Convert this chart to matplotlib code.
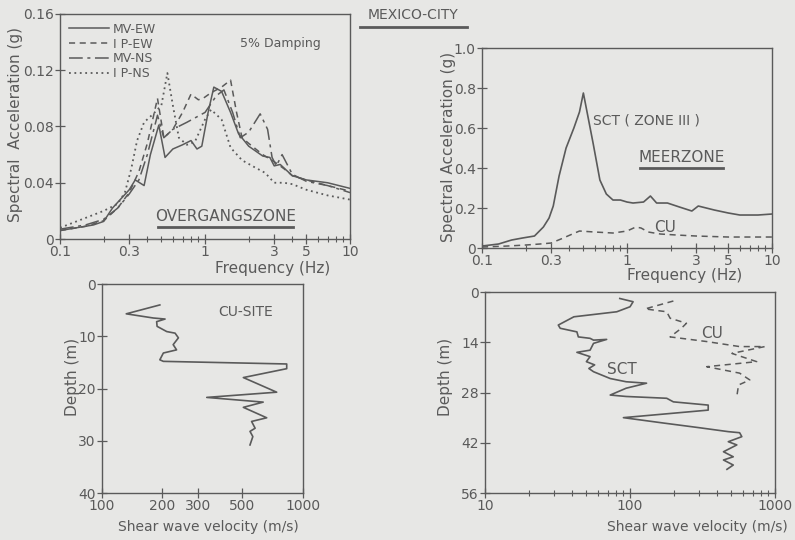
import matplotlib
matplotlib.use('Agg')
import matplotlib.pyplot as plt
from matplotlib.lines import Line2D

# --- transition zone spectra (top left) ---
f_mv_ew = [0.1, 0.13, 0.17, 0.2, 0.23, 0.26, 0.3, 0.33, 0.38, 0.42, 0.48, 0.53, 0.6, 0.7, 0.8, 0.88, 0.95, 1.05, 1.15, 1.3, 1.5, 1.7, 2.0, 2.5, 2.8, 3.0, 3.3, 4.0, 5.0, 7.0, 10.0]
a_mv_ew = [0.006, 0.008, 0.010, 0.0125, 0.022, 0.028, 0.035, 0.042, 0.038, 0.060, 0.081, 0.058, 0.064, 0.067, 0.070, 0.064, 0.066, 0.090, 0.108, 0.105, 0.090, 0.075, 0.066, 0.059, 0.058, 0.052, 0.053, 0.045, 0.042, 0.040, 0.036]

f_ip_ew = [0.1, 0.15, 0.2, 0.25, 0.3, 0.35, 0.4, 0.47, 0.52, 0.6, 0.7, 0.8, 0.9, 0.97, 1.1, 1.3, 1.5, 1.65, 1.8, 2.0, 2.5, 3.0, 3.5, 4.0, 5.0, 7.0, 10.0]
a_ip_ew = [0.006, 0.009, 0.013, 0.022, 0.033, 0.048, 0.068, 0.100, 0.072, 0.078, 0.090, 0.103, 0.099, 0.100, 0.104, 0.108, 0.113, 0.090, 0.072, 0.068, 0.060, 0.055, 0.050, 0.045, 0.042, 0.038, 0.034]

f_mv_ns = [0.1, 0.15, 0.2, 0.25, 0.3, 0.35, 0.4, 0.47, 0.52, 0.6, 0.75, 1.0, 1.2, 1.35, 1.55, 1.75, 2.0, 2.4, 2.7, 2.9, 3.1, 3.4, 4.0, 5.0, 7.0, 10.0]
a_mv_ns = [0.007, 0.010, 0.014, 0.022, 0.032, 0.042, 0.060, 0.088, 0.072, 0.078, 0.083, 0.090, 0.102, 0.106, 0.090, 0.072, 0.076, 0.089, 0.078, 0.058, 0.052, 0.060, 0.046, 0.041, 0.038, 0.033]

f_ip_ns = [0.1, 0.15, 0.2, 0.25, 0.28, 0.31, 0.34, 0.38, 0.44, 0.5, 0.55, 0.6, 0.66, 0.75, 0.85, 1.0, 1.1, 1.3, 1.5, 1.8, 2.2, 2.6, 3.0, 3.5, 4.0, 5.0, 7.0, 10.0]
a_ip_ns = [0.008, 0.015, 0.020, 0.025, 0.033, 0.050, 0.070, 0.083, 0.089, 0.095, 0.118, 0.095, 0.072, 0.067, 0.069, 0.085, 0.092, 0.085, 0.065, 0.056, 0.051, 0.047, 0.040, 0.040, 0.039, 0.035, 0.031, 0.028]

# --- lake zone spectra (top right) ---
f_sct = [0.1, 0.13, 0.16, 0.19, 0.23, 0.265, 0.29, 0.31, 0.34, 0.38, 0.43, 0.47, 0.5, 0.54, 0.585, 0.65, 0.72, 0.8, 0.9, 1.0, 1.1, 1.3, 1.45, 1.6, 1.9, 2.3, 2.8, 3.1, 4.0, 5.0, 6.0, 8.0, 10.0]
a_sct = [0.01, 0.02, 0.04, 0.05, 0.06, 0.105, 0.15, 0.21, 0.36, 0.50, 0.60, 0.68, 0.775, 0.65, 0.52, 0.34, 0.27, 0.24, 0.24, 0.23, 0.225, 0.23, 0.26, 0.225, 0.225, 0.205, 0.185, 0.21, 0.19, 0.175, 0.165, 0.165, 0.17]

f_cu = [0.1, 0.15, 0.2, 0.25, 0.3, 0.35, 0.42, 0.47, 0.6, 0.8, 1.0, 1.15, 1.25, 1.4, 1.7, 2.2, 3.0, 5.0, 7.0, 10.0]
a_cu = [0.005, 0.01, 0.015, 0.02, 0.025, 0.045, 0.07, 0.085, 0.08, 0.075, 0.085, 0.105, 0.1, 0.08, 0.07, 0.065, 0.06, 0.055, 0.055, 0.055]

# --- shear wave profiles ---
vs_cusite = [194, 132, 180, 206, 187, 188, 210, 231, 240, 226, 235, 202, 194, 202, 830, 830, 505, 740, 332, 634, 505, 660, 555, 578, 545, 563, 545]
d_cusite = [4.0, 5.7, 6.5, 6.7, 7.2, 8.1, 9.1, 9.4, 10.3, 11.6, 12.6, 13.2, 14.5, 14.8, 15.3, 16.2, 17.9, 20.7, 21.7, 22.6, 23.6, 25.6, 26.3, 27.6, 28.2, 29.2, 30.8]

vs_sct = [85, 105, 100, 81, 41, 32, 33, 43, 44, 53, 56, 69, 56, 53, 43, 53, 50, 57, 52, 56, 73, 94, 130, 94, 73, 94, 179, 199, 346, 346, 90, 170, 300, 476, 570, 590, 476, 545, 441, 515, 441, 515, 466]
d_sct = [1.8, 2.7, 4.1, 5.5, 6.9, 9.2, 10.1, 11.1, 12.5, 12.9, 13.4, 13.2, 14.3, 16.2, 16.8, 18.0, 19.4, 20.3, 21.3, 22.2, 24.1, 25.0, 25.4, 26.8, 28.7, 29.1, 29.6, 30.6, 31.5, 32.9, 35.0, 36.5, 37.8, 38.9, 39.2, 40.3, 41.7, 42.6, 44.5, 45.9, 46.8, 48.2, 49.4]

vs_cu = [199, 127, 179, 189, 245, 226, 189, 338, 570, 850, 504, 747, 338, 570, 670, 560, 545]
d_cu = [2.5, 4.7, 5.5, 7.3, 8.7, 10.1, 12.5, 13.8, 15.2, 15.2, 17.1, 19.4, 20.8, 22.6, 24.5, 25.9, 29.1]

bg = '#e7e7e5'
ink = '#5a5a5a'
fs = 10

plt.rcParams['font.family'] = ['DejaVu Sans']
plt.rcParams['text.color'] = ink
plt.rcParams['axes.edgecolor'] = ink
plt.rcParams['xtick.color'] = ink
plt.rcParams['ytick.color'] = ink

fig = plt.figure(figsize=(7.95, 5.4), dpi=100, facecolor=bg)


def style(ax):
    ax.set_facecolor(bg)
    for s in ax.spines.values():
        s.set_linewidth(1.0)
    ax.tick_params(which='both', direction='inout', labelsize=fs, pad=1)
    ax.tick_params(which='major', length=7, width=0.9)
    ax.tick_params(which='minor', length=5, width=0.8)


def underline(ax, x0, x1, y):
    ax.plot([x0, x1], [y, y], color=ink, lw=2, transform=ax.transAxes, clip_on=False)


freq_major = [0.1, 0.3, 1, 3, 5, 10]
freq_labels = ['0.1', '0.3', '1', '3', '5', '10']
freq_minor = [0.2, 0.4, 0.5, 0.6, 0.7, 0.8, 0.9, 2, 4, 6, 7, 8, 9]

# top left
ax1 = fig.add_axes([0.0755, 0.5574, 0.3648, 0.4167])
style(ax1)
ax1.plot(f_mv_ew, a_mv_ew, color=ink, lw=1.1, label='MV-EW')
ax1.plot(f_ip_ew, a_ip_ew, color=ink, lw=1.1, dashes=(4, 3), label='I P-EW')
ax1.plot(f_mv_ns, a_mv_ns, color=ink, lw=1.1, dashes=(9, 3, 2, 3), label='MV-NS')
ax1.plot(f_ip_ns, a_ip_ns, color=ink, lw=1.3, dashes=(1, 2), label='I P-NS')
ax1.set_xscale('log')
ax1.set_xlim(0.1, 10)
ax1.set_ylim(0, 0.16)
ax1.set_xticks(freq_major, freq_labels)
ax1.set_xticks(freq_minor, minor=True)
ax1.set_xticklabels([], minor=True)
ax1.set_yticks([0, 0.04, 0.08, 0.12, 0.16], ['0', '0.04', '0.08', '0.12', '0.16'])
ax1.legend(loc='upper left', frameon=False, fontsize=fs - 1, handlelength=3.2,
           handletextpad=0.3, labelspacing=0.15, borderaxespad=0.3, labelcolor=ink)
ax1.text(0.76, 0.871, '5% Damping', transform=ax1.transAxes, ha='center', va='center', fontsize=fs - 1)
ax1.text(0.57, 0.098, 'OVERGANGSZONE', transform=ax1.transAxes, ha='center', va='center', fontsize=fs + 1)
underline(ax1, 0.338, 0.803, 0.053)
ax1.text(0.734, -0.129, 'Frequency (Hz)', transform=ax1.transAxes, ha='center', va='center', fontsize=fs + 1)
ax1.text(-0.155, 0.507, 'Spectral  Acceleration (g)', transform=ax1.transAxes, ha='center', va='center',
         rotation=90, fontsize=fs + 1)

# top right
ax2 = fig.add_axes([0.6063, 0.5407, 0.3648, 0.3704])
style(ax2)
ax2.plot(f_sct, a_sct, color=ink, lw=1.2)
ax2.plot(f_cu, a_cu, color=ink, lw=1.1, dashes=(4, 3))
ax2.set_xscale('log')
ax2.set_xlim(0.1, 10)
ax2.set_ylim(0, 1.0)
ax2.set_xticks(freq_major, freq_labels)
ax2.set_xticks(freq_minor, minor=True)
ax2.set_xticklabels([], minor=True)
ax2.set_yticks([0, 0.2, 0.4, 0.6, 0.8, 1.0], ['0', '0.2', '0.4', '0.6', '0.8', '1.0'])
ax2.text(0.383, 0.64, 'SCT ( ZONE III )', transform=ax2.transAxes, ha='left', va='center', fontsize=fs)
ax2.text(0.688, 0.455, 'MEERZONE', transform=ax2.transAxes, ha='center', va='center', fontsize=fs + 1)
underline(ax2, 0.545, 0.831, 0.40)
ax2.text(0.63, 0.105, 'CU', transform=ax2.transAxes, ha='center', va='center', fontsize=fs + 1)
ax2.text(0.697, -0.135, 'Frequency (Hz)', transform=ax2.transAxes, ha='center', va='center', fontsize=fs + 1)
ax2.text(-0.117, 0.505, 'Spectral Acceleration (g)', transform=ax2.transAxes, ha='center', va='center',
         rotation=90, fontsize=fs + 1)

# bottom left
ax3 = fig.add_axes([0.1283, 0.087, 0.2528, 0.387])
style(ax3)
ax3.plot(vs_cusite, d_cusite, color=ink, lw=1.2)
ax3.set_xscale('log')
ax3.set_xlim(100, 1000)
ax3.set_ylim(40, 0)
ax3.set_xticks([100, 200, 300, 500, 1000], ['100', '200', '300', '500', '1000'])
ax3.set_xticks([], minor=True)
ax3.set_yticks([0, 10, 20, 30, 40], ['0', '10', '20', '30', '40'])
ax3.text(0.713, 0.866, 'CU-SITE', transform=ax3.transAxes, ha='center', va='center', fontsize=fs)
ax3.text(0.527, -0.163, 'Shear wave velocity (m/s)', transform=ax3.transAxes, ha='center', va='center', fontsize=fs)
ax3.text(-0.149, 0.555, 'Depth (m)', transform=ax3.transAxes, ha='center', va='center', rotation=90, fontsize=fs + 1)

# bottom right
ax4 = fig.add_axes([0.6101, 0.087, 0.3648, 0.3722])
style(ax4)
ax4.plot(vs_sct, d_sct, color=ink, lw=1.2)
ax4.plot(vs_cu, d_cu, color=ink, lw=1.1, dashes=(4, 3))
ax4.set_xscale('log')
ax4.set_xlim(10, 1000)
ax4.set_ylim(56, 0)
ax4.set_xticks([10, 100, 1000], ['10', '100', '1000'])
ax4.set_xticks([20, 30, 40, 50, 60, 70, 80, 90, 200, 300, 400, 500, 600, 700, 800, 900], minor=True)
ax4.set_xticklabels([], minor=True)
ax4.set_yticks([0, 14, 28, 42, 56], ['0', '14', '28', '42', '56'])
ax4.text(0.783, 0.796, 'CU', transform=ax4.transAxes, ha='center', va='center', fontsize=fs + 1)
ax4.text(0.472, 0.617, 'SCT', transform=ax4.transAxes, ha='center', va='center', fontsize=fs + 1)
ax4.text(0.731, -0.169, 'Shear wave velocity (m/s)', transform=ax4.transAxes, ha='center', va='center', fontsize=fs)
ax4.text(-0.138, 0.577, 'Depth (m)', transform=ax4.transAxes, ha='center', va='center', rotation=90, fontsize=fs + 1)

# figure title
fig.text(0.52, 0.972, 'MEXICO-CITY', ha='center', va='center', fontsize=fs)
fig.add_artist(Line2D([0.453, 0.587], [0.95, 0.95], color=ink, lw=2, transform=fig.transFigure))

fig.savefig('out.png', dpi=100, facecolor=bg)
